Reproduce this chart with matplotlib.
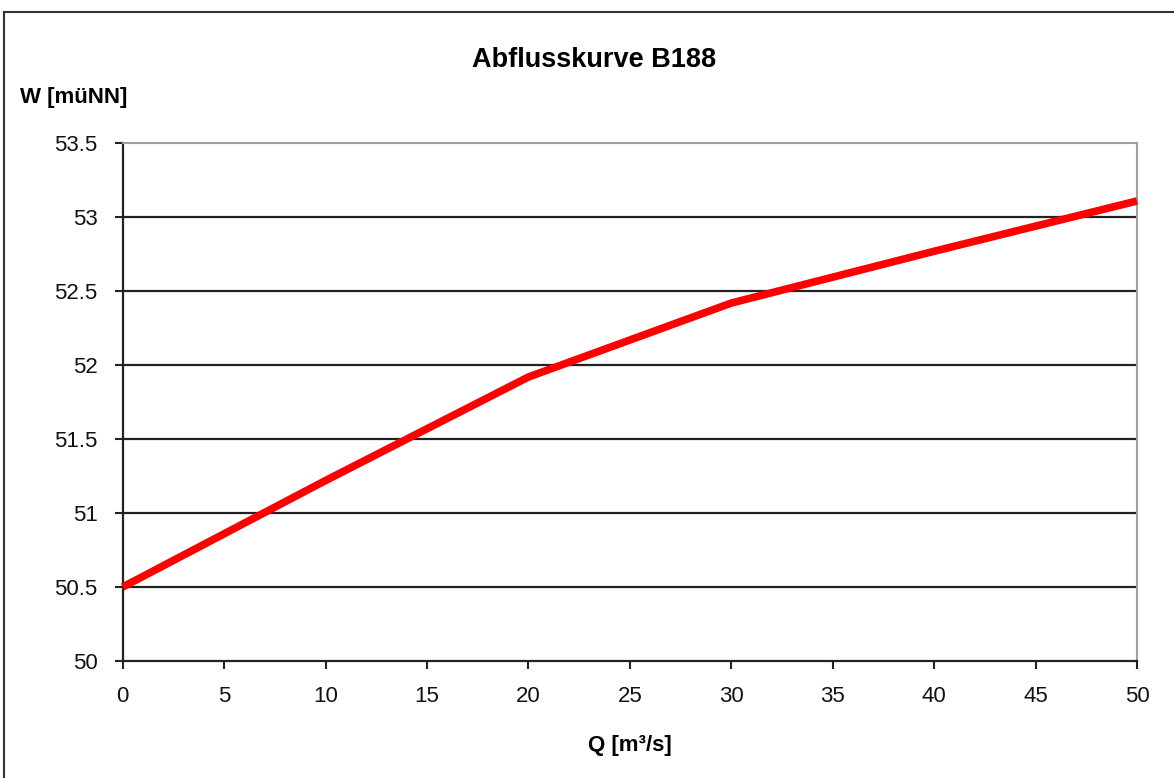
import matplotlib
matplotlib.use("Agg")
import matplotlib.pyplot as plt
from matplotlib.patches import Rectangle

# Abflusskurve (rating curve)
q_values = [0, 10, 20, 30, 40, 50]
w_values = [50.5, 51.22, 51.92, 52.42, 52.77, 53.11]

x_ticks = [0, 5, 10, 15, 20, 25, 30, 35, 40, 45, 50]
y_ticks = [50, 50.5, 51, 51.5, 52, 52.5, 53, 53.5]
y_tick_labels = ["50", "50.5", "51", "51.5", "52", "52.5", "53", "53.5"]

title = "Abflusskurve B188"
x_label = "Q [m³/s]"
y_label = "W [müNN]"

plt.rcParams["font.family"] = ["Liberation Sans", "DejaVu Sans"]

W, H = 1174, 778
fig = plt.figure(figsize=(W / 100, H / 100), dpi=100)
fig.patch.set_facecolor("white")

# outer chart-area frame (runs off the right/bottom edge)
fig.patches.append(Rectangle((4 / W, -0.05), 1.1, 1 - 12 / H + 0.05,
                             transform=fig.transFigure, fill=False,
                             edgecolor="#333333", linewidth=1.5))

ax = fig.add_axes([122.7 / W, 1 - 661 / H, (1137 - 122.7) / W, (661 - 143.3) / H])

for y in y_ticks[1:-1]:
    ax.axhline(y, color="#222222", lw=1.6, zorder=1)

ax.plot(q_values, w_values, color="#ff0000", lw=5.5, solid_capstyle="butt",
        solid_joinstyle="round", zorder=3, clip_on=False)

ax.set_xlim(0, 50)
ax.set_ylim(50, 53.5)
ax.set_xticks(x_ticks)
ax.set_yticks(y_ticks)
ax.set_yticklabels(y_tick_labels)

for side in ("top", "right"):
    ax.spines[side].set_color("#a0a0a0")
    ax.spines[side].set_linewidth(1.5)
for side in ("left", "bottom"):
    ax.spines[side].set_color("#222222")
    ax.spines[side].set_linewidth(1.6)

ax.tick_params(axis="both", direction="out", length=6, width=1.5,
               colors="#222222", labelsize=16, labelcolor="#111111")
ax.tick_params(axis="x", pad=12)
ax.tick_params(axis="y", pad=12)

fig.text(594 / W, 1 - 60 / H, title, ha="center", va="center",
         fontsize=19.5, fontweight="bold")
fig.text(20 / W, 1 - 97 / H, y_label, ha="left", va="center",
         fontsize=16, fontweight="bold")
fig.text(630 / W, 1 - 745 / H, x_label, ha="center", va="center",
         fontsize=16, fontweight="bold")

fig.savefig("out.png", dpi=100)
